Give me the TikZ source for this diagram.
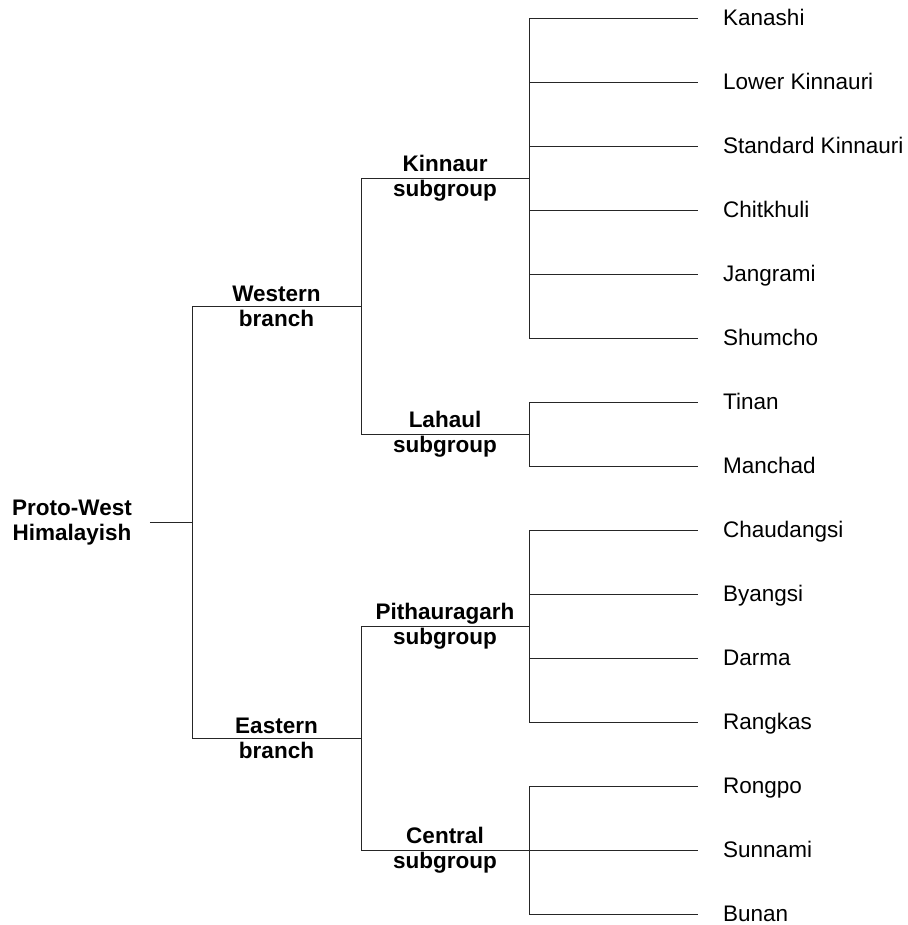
\documentclass[tikz,border=0pt]{standalone}
\usepackage{fontspec}
\setmainfont{Liberation Sans}
\usepackage{tikz}
\usetikzlibrary{positioning, calc}
\tikzset{
  lang/.style={font=\fontsize{22.5}{25}\selectfont, anchor=west, inner xsep=25pt, inner ysep=0pt,
               text height=15pt, text depth=0pt},
  grp/.style={font=\fontsize{22.5}{25}\selectfont\bfseries, align=center, inner sep=0pt},
  twig/.style={line width=1pt, color=black!85},
}

\begin{document}
\begin{tikzpicture}[x=1pt, y=-1pt]
  \useasboundingbox (0,0) rectangle (907,925);
  % languages
  \foreach \t [count=\k] in {Kanashi, Lower Kinnauri, Standard Kinnauri, Chitkhuli, Jangrami, Shumcho,
      Tinan, Manchad, Chaudangsi, Byangsi, Darma, Rangkas, Rongpo, Sunnami, Bunan}
    \node[lang] (l\k) at (698,18.3+\k*64-64) {\t};
  % groups
  \node[grp] (root) at (72,522.3) {Proto-West\\Himalayish};
  \node[grp] (west) at (276.5,306.3) {Western\\branch};
  \node[grp] (east) at (276.5,738.3) {Eastern\\branch};
  \node[grp] (kin) at (445,178.3) {Kinnaur\\subgroup};
  \node[grp] (lah) at (445,434.3) {Lahaul\\subgroup};
  \node[grp] (pit) at (445,626.3) {Pithauragarh\\subgroup};
  \node[grp] (cen) at (445,850.3) {Central\\subgroup};
  % junction columns
  \coordinate (jroot) at (192,0);
  \coordinate (jbr) at (361,0);
  \coordinate (jsub) at (529,0);
  \draw[twig] ([xshift=18pt]root.east) -- (jroot |- root);
  \draw[twig] (jbr |- west) -- (jroot |- west) -- (jroot |- east) -- (jbr |- east);
  \draw[twig] (jsub |- kin) -- (jbr |- kin) -- (jbr |- lah) -- (jsub |- lah);
  \draw[twig] (jsub |- pit) -- (jbr |- pit) -- (jbr |- cen) -- (jsub |- cen);
  \draw[twig] (jsub |- l1) -- (jsub |- l6);
  \draw[twig] (jsub |- l7) -- (jsub |- l8);
  \draw[twig] (jsub |- l9) -- (jsub |- l12);
  \draw[twig] (jsub |- l13) -- (jsub |- l15);
  \foreach \k in {1,...,15}
    \draw[twig] (jsub |- l\k) -- (l\k.west);
\end{tikzpicture}
\end{document}
